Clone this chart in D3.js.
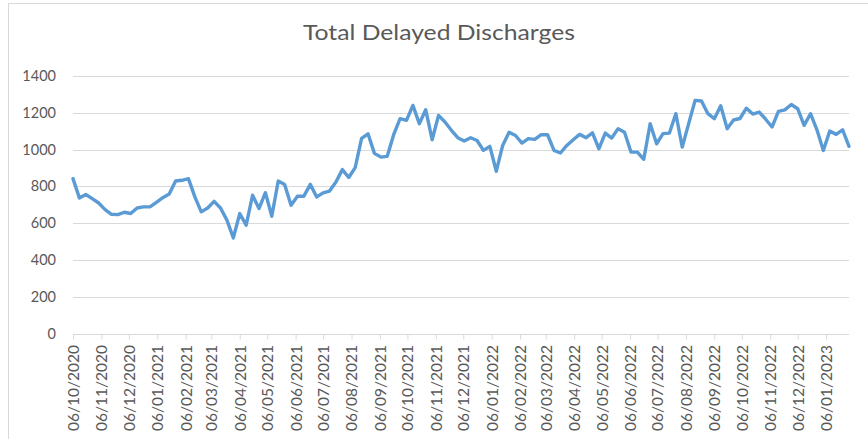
<!DOCTYPE html>
<html>
<head>
<meta charset="utf-8">
<script src="https://cdn.jsdelivr.net/npm/d3@7"></script>
<style>
  html, body { margin: 0; padding: 0; background: #ffffff; }
  svg { display: block; }
</style>
</head>
<body>
<svg id="chart" width="868" height="439"></svg>
<script>
// ---- data ----
const chartTitle = "Total Delayed Discharges";
const firstWeek = "06/10/2020";   // weekly series start (DD/MM/YYYY)
const weekStepDays = 7;
const values = [
  842, 737, 756, 734, 710, 674, 649, 647, 660, 653,
  683, 689, 689, 714, 739, 759, 829, 833, 842, 743,
  662, 683, 719, 683, 617, 521, 653, 590, 752, 680,
  766, 638, 829, 810, 698, 747, 747, 811, 743, 765,
  775, 824, 891, 848, 902, 1060, 1085, 979, 959, 963,
  1080, 1167, 1158, 1239, 1140, 1215, 1053, 1185, 1149, 1104,
  1064, 1046, 1064, 1049, 995, 1017, 882, 1022, 1094, 1076,
  1035, 1059, 1055, 1080, 1080, 995, 981, 1022, 1053, 1082,
  1064, 1090, 1004, 1089, 1062, 1113, 1094, 986, 986, 947,
  1140, 1031, 1086, 1089, 1194, 1013, 1140, 1266, 1263, 1194,
  1167, 1237, 1113, 1160, 1168, 1224, 1192, 1203, 1164, 1122,
  1207, 1215, 1244, 1221, 1131, 1194, 1107, 995, 1100, 1082,
  1107, 1017
];
const yTicks = [0, 200, 400, 600, 800, 1000, 1200, 1400];
const xTickLabels = [
  "06/10/2020", "06/11/2020", "06/12/2020", "06/01/2021", "06/02/2021", "06/03/2021",
  "06/04/2021", "06/05/2021", "06/06/2021", "06/07/2021", "06/08/2021", "06/09/2021",
  "06/10/2021", "06/11/2021", "06/12/2021", "06/01/2022", "06/02/2022", "06/03/2022",
  "06/04/2022", "06/05/2022", "06/06/2022", "06/07/2022", "06/08/2022", "06/09/2022",
  "06/10/2022", "06/11/2022", "06/12/2022", "06/01/2023"
];

// ---- setup ----
const parse = d3.timeParse("%d/%m/%Y");
const start = parse(firstWeek);
const dates = values.map((v, i) => d3.timeDay.offset(start, i * weekStepDays));
const series = values.map((v, i) => ({ date: dates[i], value: v }));

const svg = d3.select("#chart");
const font = "Lato, 'Open Sans', sans-serif";
const textColor = "#595959";
const gridColor = "#d9d9d9";

const plotLeft = 73, plotRight = 849, plotTop = 75.7, plotBottom = 334;

const x = d3.scaleTime()
  .domain([dates[0], dates[dates.length - 1]])
  .range([plotLeft, plotRight]);
const y = d3.scaleLinear()
  .domain([0, 1400])
  .range([plotBottom, plotTop]);

// chart border
svg.append("rect")
  .attr("x", 8.5).attr("y", 3.5)
  .attr("width", 880).attr("height", 460)
  .attr("fill", "none")
  .attr("stroke", gridColor)
  .attr("stroke-width", 1);

// title
svg.append("text")
  .attr("x", 303).attr("y", 39.5)
  .attr("font-family", font)
  .attr("font-size", "20.5px")
  .attr("fill", textColor)
  .attr("textLength", 272)
  .attr("lengthAdjust", "spacingAndGlyphs")
  .text(chartTitle);

// gridlines
svg.append("g")
  .selectAll("line")
  .data(yTicks.filter(t => t > 0))
  .join("line")
  .attr("x1", plotLeft).attr("x2", plotRight)
  .attr("y1", d => Math.round(y(d)) + 0.5)
  .attr("y2", d => Math.round(y(d)) + 0.5)
  .attr("stroke", gridColor)
  .attr("stroke-width", 1);

// y axis labels
svg.append("g")
  .selectAll("text")
  .data(yTicks)
  .join("text")
  .attr("x", 56)
  .attr("y", d => y(d))
  .attr("dy", "0.35em")
  .attr("text-anchor", "end")
  .attr("font-family", font)
  .attr("font-size", "14.5px")
  .attr("fill", textColor)
  .text(d => d);

// x axis
const tickDates = xTickLabels.map(parse);
const xAxis = d3.axisBottom(x)
  .tickValues(tickDates)
  .tickSize(5)
  .tickSizeOuter(0)
  .tickFormat((d, i) => xTickLabels[i]);

const gx = svg.append("g")
  .attr("transform", `translate(0,${Math.round(plotBottom) + 0.5})`)
  .call(xAxis);
gx.select(".domain").attr("stroke", gridColor).attr("d", `M${plotLeft},0H${plotRight}`);
gx.selectAll(".tick line").attr("stroke", gridColor);
gx.selectAll(".tick text")
  .attr("font-family", font)
  .attr("font-size", "15.5px")
  .attr("fill", textColor)
  .attr("text-anchor", "end")
  .attr("transform", "rotate(-90)")
  .attr("x", -10.5)
  .attr("y", 0)
  .attr("dy", "0.35em");

// line
const line = d3.line()
  .x(d => x(d.date))
  .y(d => y(d.value));

svg.append("path")
  .datum(series)
  .attr("d", line)
  .attr("fill", "none")
  .attr("stroke", "#5b9bd5")
  .attr("stroke-width", 3.4)
  .attr("stroke-linejoin", "round")
  .attr("stroke-linecap", "round");
</script>
</body>
</html>
